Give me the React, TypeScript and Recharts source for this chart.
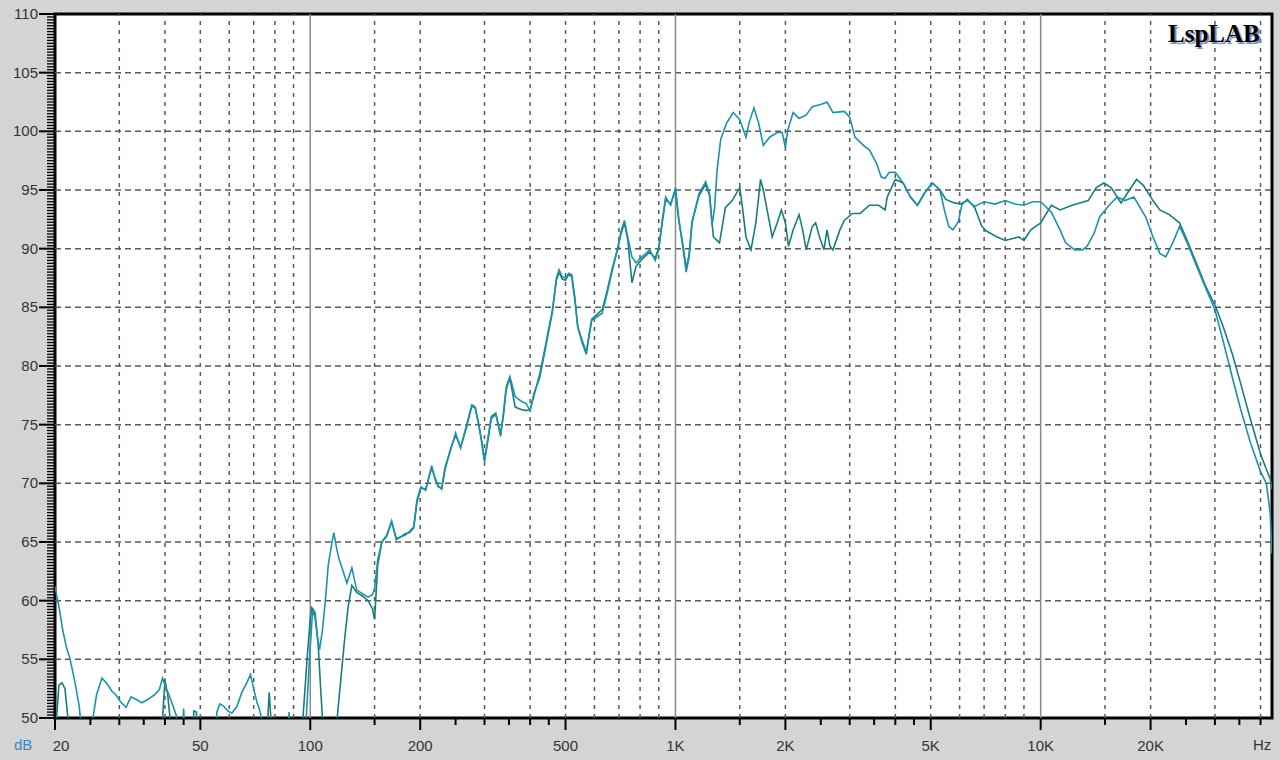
import React from "react";
import { LineChart, Line, XAxis, YAxis, ReferenceLine, ReferenceArea } from "recharts";

// ---- axis tick values / labels ----
const xTickValues = [20, 50, 100, 200, 500, 1000, 2000, 5000, 10000, 20000];
const xTickLabels = ["20", "50", "100", "200", "500", "1K", "2K", "5K", "10K", "20K"];
const xMinorTicks = [25, 30, 35, 40, 45, 150, 250, 300, 350, 400, 450, 1500, 2500, 3000, 3500, 4000, 4500, 15000, 25000, 30000, 35000, 40000];
const xDashedGrid = [30, 40, 50, 60, 70, 80, 90, 150, 200, 300, 400, 500, 600, 700, 800, 900, 1500, 2000, 3000, 4000, 5000, 6000, 7000, 8000, 9000, 15000, 20000, 30000, 40000];
const xSolidGrid = [100, 1000, 10000];
const yTickValues = [50, 55, 60, 65, 70, 75, 80, 85, 90, 95, 100, 105, 110];
const yGrid = [55, 60, 65, 70, 75, 80, 85, 90, 95, 100, 105];

// ---- series A (upper curve in 1.3K–3K) ----
const freqA = [
  20, 20.5, 21, 21.5, 22, 22.7, 23.3, 23.8, 24.3, 24.8, 25.4, 26, 26.9, 27.8, 28.6, 29.3, 30.2, 31.3, 32.3, 33.3,
  34.6, 36, 37.5, 38.6, 39.4, 40.2, 41, 42, 43, 43.6, 44.3, 45, 45.6, 46.2, 54, 55.5, 56.5, 58, 59.5, 61,
  63, 65, 67, 68.6, 70, 71.5, 72.5, 73.5, 74.5, 86, 87.5, 89, 95, 97.5, 99.5, 101.5, 103, 104.5, 106, 108,
  110, 112, 114, 116, 118, 120, 123, 126, 130, 134, 139, 144, 148, 150, 153, 157, 162, 167, 172, 176,
  182, 187, 192, 196, 201, 207, 215, 220, 224, 229, 234, 242, 250, 258, 267, 277, 283, 289, 294, 300,
  307, 313, 322, 332, 338, 344, 352, 364, 378, 390, 400, 410, 425, 440, 450, 460, 472, 480, 490, 500,
  510, 520, 530, 540, 555, 570, 580, 590, 610, 630, 650, 670, 690, 710, 725, 740, 760, 780, 810, 850,
  880, 900, 920, 940, 970, 1000, 1020, 1050, 1070, 1090, 1110, 1160, 1210, 1240, 1260, 1280, 1300, 1330, 1380, 1440,
  1500, 1560, 1590, 1640, 1690, 1740, 1810, 1900, 1960, 2000, 2030, 2100, 2180, 2280, 2370, 2510, 2600, 2700, 2900, 3000,
  3100, 3300, 3400, 3550, 3660, 3750, 3850, 4000, 4200, 4400, 4600, 4800, 5050, 5300, 5450, 5600, 5750, 5950, 6100, 6300,
  6600, 7000, 7500, 8000, 8500, 9000, 9500, 10000, 10700, 11300, 11700, 12400, 13000, 13400, 14000, 14500, 15400, 16200, 17000, 18000,
  19400, 20300, 21200, 22000, 23000, 24000, 25200, 26500, 28000, 30000, 31500, 33500, 35300, 37500, 40000, 41500, 42500, 43000,
];
const dbA = [
  61.2, 59.5, 57.5, 56, 55, 53, 51, 48, 45, 47, 50, 52, 53.4, 52.9, 52.3, 52, 51.4, 50.9, 51.8, 51.6,
  51.3, 51.6, 52, 52.4, 53.4, 52.6, 52, 51.1, 50.2, 47, 45, 50.8, 47, 45, 45, 50.5, 51.2, 51, 50.6, 50.4,
  51, 52.2, 53, 53.7, 52.5, 51.3, 50.8, 50, 45, 45, 50.5, 45, 45, 50, 55, 59.2, 58.6, 57, 55.8, 57.5,
  60, 63, 64.5, 65.8, 64.5, 63.5, 62.5, 61.5, 62.8, 60.9, 60.6, 60.3, 60.5, 61, 63.5, 65, 65.6, 66.8, 65.2, 65.4,
  65.6, 65.9, 66.3, 68.6, 69.7, 69.4, 71.5, 70.3, 69.7, 69.6, 71.4, 72.8, 74.3, 73, 74.8, 76.7, 76.5, 75, 73.7, 71.8,
  74, 75.7, 76, 74, 76, 78.2, 79.1, 77.4, 77, 76.8, 76.2, 77.7, 79, 81.4, 83, 84.5, 87.5, 88.2, 87.6, 87.5,
  87.9, 87.8, 85.9, 83.3, 82.2, 81.2, 82.5, 83.9, 84.2, 84.5, 86.2, 88, 89.6, 91.5, 92.4, 91, 89.3, 88.8, 89.3, 89.9,
  89, 89.9, 92.4, 94.4, 93.7, 95.2, 92.7, 89.9, 88, 89.3, 92.2, 94.7, 95.7, 94.7, 92, 93.5, 96.7, 99.3, 100.7, 101.6,
  101, 99.5, 100.7, 102, 100.7, 98.8, 99.5, 99.9, 99.9, 98.6, 100.1, 101.6, 101.1, 101.4, 102.1, 102.3, 102.5, 101.6, 101.7, 101.2,
  99.5, 98.7, 98.4, 97.3, 96.1, 96, 96.5, 96.5, 95.6, 94.4, 93.7, 94.7, 95.6, 95, 93.3, 91.9, 91.6, 92.3, 93.9, 94.1,
  93.6, 94, 93.8, 94.1, 93.8, 93.7, 94, 94, 93.1, 91.6, 90.5, 89.9, 89.9, 90.2, 91.3, 92.7, 93.7, 94.4, 94.1, 94.4,
  92.7, 91, 89.6, 89.3, 90.5, 91.9, 90.5, 88.8, 87, 84.8, 82.3, 79, 76.3, 73.5, 71, 70, 67.5, 64,
];

// ---- series B (lower curve in 1.3K–3K) ----
const freqB = [
  20, 20.2, 20.5, 20.9, 21.3, 21.7, 22.1, 38.5, 39.4, 40, 40.7, 41.3, 41.9, 47.3, 48, 48.8, 49.5, 75.5, 76.5, 77.2,
  78, 78.8, 92, 95.5, 98, 100, 101, 103, 105, 107, 108.5, 110, 117, 118.5, 121, 124, 127, 130, 134, 139,
  144, 148, 150, 153, 157, 162, 167, 172, 176, 182, 187, 192, 196, 201, 207, 215, 220, 224, 229, 234,
  242, 250, 258, 267, 277, 283, 289, 294, 300, 307, 313, 322, 332, 338, 344, 352, 364, 378, 390, 400,
  410, 425, 440, 450, 460, 472, 480, 490, 500, 510, 520, 530, 540, 555, 570, 580, 590, 610, 630, 650,
  670, 690, 710, 725, 740, 760, 780, 810, 850, 880, 900, 920, 940, 970, 1000, 1020, 1050, 1070, 1090, 1110,
  1160, 1210, 1240, 1270, 1320, 1370, 1430, 1500, 1520, 1560, 1610, 1660, 1710, 1740, 1810, 1840, 1900, 1950, 2000, 2040,
  2100, 2180, 2230, 2280, 2370, 2420, 2480, 2550, 2600, 2650, 2700, 2820, 2900, 3050, 3200, 3400, 3600, 3750, 3800, 4000,
  4200, 4400, 4600, 4800, 5050, 5300, 5500, 5800, 6100, 6300, 6600, 6900, 7100, 7600, 8000, 8700, 9000, 9400, 10000, 10700,
  11300, 12200, 13500, 14200, 14900, 15600, 16600, 17500, 18300, 19100, 20300, 21200, 22500, 24000, 25200, 26500, 28300, 30000, 31500, 33500,
  35300, 37500, 40000, 41500, 42500, 43000,
];
const dbB = [
  45, 50, 52.8, 53, 52.5, 50, 45, 45, 50, 53.2, 52, 50, 45, 45, 50.6, 50.5, 45, 45, 50, 52.2,
  50, 45, 45, 50, 55, 58.5, 59.4, 59, 56.5, 52, 49, 45, 45, 50, 53, 56.5, 59.5, 61.3, 60.7, 60.4,
  60, 59.3, 58.4, 63, 65, 65.5, 66.7, 65.3, 65.4, 65.7, 65.8, 66.2, 68.4, 69.6, 69.5, 71.3, 70.4, 69.8, 69.5, 71.2,
  72.9, 74.1, 73.1, 74.6, 76.6, 76.4, 75.1, 73.8, 72, 73.8, 75.5, 75.9, 74.2, 75.8, 78, 79, 76.5, 76.3, 76.2, 76.3,
  77.5, 79.3, 81.6, 83.2, 84.7, 87.3, 88, 87.4, 87.3, 87.8, 87.6, 85.7, 83.4, 82, 81, 82.7, 84, 84.4, 84.8, 86.4,
  88.2, 89.7, 91.3, 92.2, 90.8, 87.1, 88.5, 89.1, 89.7, 89.2, 90.1, 92.2, 94.2, 93.8, 95, 92.5, 90.2, 88.3, 89.5, 92.3,
  94.5, 95.5, 94.5, 91, 90.5, 93.5, 94.1, 95.2, 93.9, 91, 89.9, 92.2, 95.9, 95, 92.2, 91, 92.2, 93.3, 92.2, 90.2,
  91.6, 92.9, 91.6, 89.9, 91.9, 92.2, 91, 89.9, 91.6, 90.2, 89.9, 91.6, 92.4, 93, 93, 93.7, 93.7, 93.3, 94.4, 95.9,
  95.6, 94.4, 93.7, 94.7, 95.6, 95, 94.2, 93.9, 93.8, 94.2, 93.5, 91.9, 91.5, 91, 90.7, 91, 90.7, 91.6, 92.2, 93.7,
  93.3, 93.7, 94.1, 95.2, 95.6, 95.2, 93.9, 95, 95.9, 95.4, 94.1, 93.3, 92.9, 92.2, 90.7, 89, 86.8, 85.2, 83.5, 81,
  78.5, 75.5, 72.5, 71.2, 70.4, 69.5,
];

const seriesA = freqA.map((f, i) => ({ f, v: dbA[i] }));
const seriesB = freqB.map((f, i) => ({ f, v: dbB[i] }));

const yMinorTicks: number[] = [];
for (let k = 0; k <= 240; k++) yMinorTicks.push(50 + k * 0.25);

const FONT = '"Liberation Sans", Arial, sans-serif';

const XTick = (props: any) => {
  const { x, y, payload } = props;
  const idx = xTickValues.indexOf(payload.value);
  const major = idx >= 0;
  return (
    <g>
      <line x1={x} x2={x} y1={y} y2={y + (major ? 12 : 7)} stroke="#000" strokeWidth={2} />
      {major && (
        <text x={x + (idx === 0 ? 6 : 0)} y={y + 33} textAnchor="middle" fontSize={15} fontFamily={FONT} fill="#333">
          {xTickLabels[idx]}
        </text>
      )}
    </g>
  );
};

const YTick = (props: any) => {
  const { x, y, payload } = props;
  const v = payload.value;
  const major = yTickValues.indexOf(v) >= 0;
  return (
    <g>
      <line x1={x - (major ? 16 : 8)} x2={x} y1={y} y2={y} stroke="#000" strokeWidth={major ? 2 : 1.3} />
      {major && (
        <text x={x - 17} y={y + 5} textAnchor="end" fontSize={15} fontFamily={FONT} fill="#333">
          {v}
        </text>
      )}
    </g>
  );
};

export default function App() {
  return (
    <div style={{ position: "fixed", left: 0, top: 0, width: 1280, height: 760, background: "#d4d4d4", overflow: "hidden" }}>
      <LineChart width={1280} height={760} margin={{ top: 14, right: 8, bottom: 0, left: 0 }}>
        <XAxis
          dataKey="f"
          type="number"
          scale="log"
          domain={[20, 43000]}
          allowDataOverflow
          ticks={[...xTickValues, ...xMinorTicks]}
          interval={0}
          tick={<XTick />}
          tickSize={0}
          tickMargin={0}
          tickLine={false}
          axisLine={false}
          height={42}
        />
        <YAxis
          type="number"
          domain={[50, 110]}
          allowDataOverflow
          ticks={yMinorTicks}
          interval={0}
          tick={<YTick />}
          tickSize={0}
          tickMargin={0}
          tickLine={false}
          axisLine={false}
          width={55}
        />
        <ReferenceArea x1={20} x2={43000} y1={50} y2={110} fill="#ffffff" fillOpacity={1} stroke="none" />
        {yGrid.map((v) => (
          <ReferenceLine key={"h" + v} y={v} stroke="#5a5a5a" strokeWidth={1.5} strokeDasharray="6 4" />
        ))}
        {xDashedGrid.map((v) => (
          <ReferenceLine key={"v" + v} x={v} stroke="#5a5a5a" strokeWidth={1.5} strokeDasharray="4 5" />
        ))}
        {xSolidGrid.map((v) => (
          <ReferenceLine key={"s" + v} x={v} stroke="#8a8a8a" strokeWidth={1.5} />
        ))}
        <Line data={seriesB} dataKey="v" type="linear" stroke="#1b7d7b" strokeWidth={1.6} dot={false} isAnimationActive={false} />
        <Line data={seriesA} dataKey="v" type="linear" stroke="#1e92aa" strokeWidth={1.6} dot={false} isAnimationActive={false} />
        <ReferenceArea x1={20} x2={43000} y1={50} y2={110} fill="none" stroke="#000" strokeWidth={3} />
      </LineChart>
      <div style={{ position: "absolute", left: 14, top: 736, fontFamily: FONT, fontSize: 15, color: "#2f8cc9" }}>dB</div>
      <div style={{ position: "absolute", left: 1253, top: 736, fontFamily: FONT, fontSize: 15, color: "#333" }}>Hz</div>
      <div
        style={{
          position: "absolute",
          left: 1168,
          top: 20,
          fontFamily: '"Liberation Serif", "Times New Roman", serif',
          fontWeight: "bold",
          fontSize: 25,
          color: "#000",
          textShadow: "2px 2px 1px #6f8ab8",
        }}
      >
        LspLAB
      </div>
    </div>
  );
}
